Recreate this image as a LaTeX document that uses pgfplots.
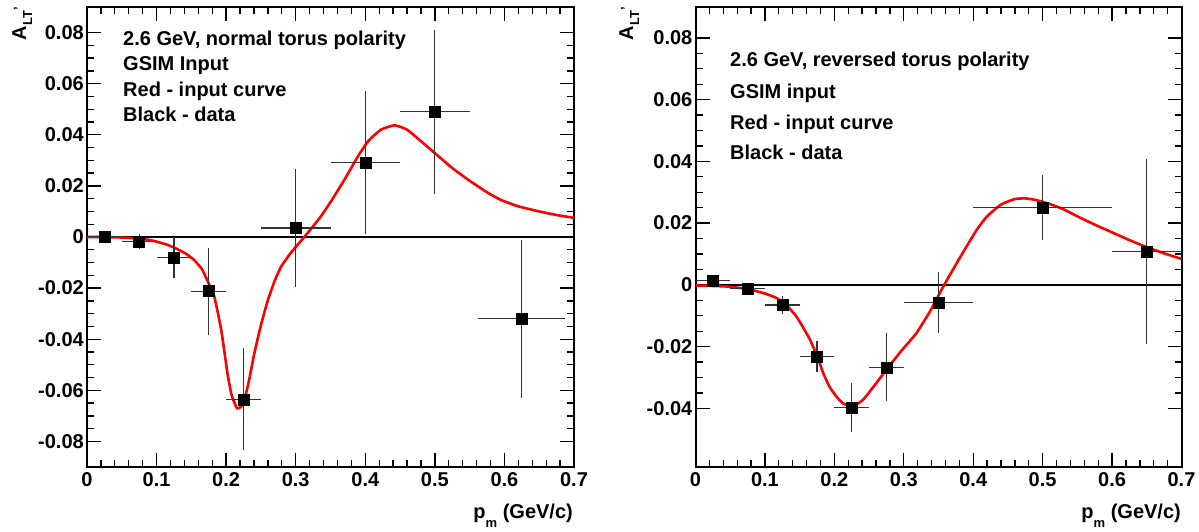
\documentclass[border=0pt]{standalone}
\usepackage{fontspec}
\setmainfont{Liberation Sans}
\usepackage{pgfplots}
\pgfplotsset{compat=1.18}

\pgfplotstableread{
x y ex ey
0.025 0.0003 0.025 0.0008
0.075 -0.0018 0.025 0.003
0.125 -0.0080 0.025 0.008
0.175 -0.0212 0.025 0.017
0.225 -0.0635 0.025 0.020
0.300 0.0035 0.050 0.023
0.400 0.0290 0.050 0.028
0.500 0.0490 0.050 0.032
0.625 -0.0320 0.0625 0.031
}\dataL

\pgfplotstableread{
x y ex ey
0.025 0.0013 0.025 0.001
0.075 -0.0011 0.025 0.001
0.125 -0.0065 0.025 0.003
0.175 -0.0232 0.025 0.005
0.225 -0.0397 0.025 0.008
0.275 -0.0267 0.025 0.011
0.350 -0.0057 0.050 0.010
0.500 0.0250 0.100 0.0105
0.650 0.0107 0.050 0.030
}\dataR

\pgfplotstableread{
x y
0.000 0.0000
0.020 0.0000
0.050 -0.0002
0.070 -0.0005
0.087 -0.0010
0.100 -0.0018
0.115 -0.0030
0.128 -0.0045
0.142 -0.0065
0.154 -0.0090
0.165 -0.0125
0.173 -0.0170
0.183 -0.0234
0.193 -0.0365
0.202 -0.0535
0.208 -0.0620
0.2156 -0.0670
0.221 -0.0665
0.226 -0.0640
0.233 -0.0560
0.2405 -0.0456
0.250 -0.0345
0.260 -0.0247
0.270 -0.0170
0.279 -0.0116
0.293 -0.0062
0.3076 -0.0015
0.320 0.0025
0.336 0.0080
0.352 0.0145
0.370 0.0224
0.390 0.0318
0.405 0.0378
0.4226 0.0420
0.442 0.0437
0.460 0.0420
0.480 0.0375
0.5027 0.0322
0.525 0.0270
0.550 0.0220
0.575 0.0175
0.595 0.0145
0.620 0.0120
0.650 0.0100
0.675 0.0086
0.700 0.0075
}\curveL

\pgfplotstableread{
x y
0.000 -0.0002
0.030 -0.0004
0.050 -0.0006
0.076 -0.0014
0.100 -0.0028
0.117 -0.0043
0.132 -0.0068
0.1455 -0.0103
0.155 -0.0138
0.165 -0.0178
0.175 -0.0230
0.184 -0.0286
0.193 -0.0330
0.203 -0.0362
0.212 -0.0383
0.2213 -0.0392
0.231 -0.0388
0.2415 -0.0372
0.258 -0.0325
0.275 -0.0275
0.296 -0.0215
0.318 -0.0157
0.338 -0.0085
0.357 -0.0005
0.380 0.0085
0.405 0.0178
0.420 0.0222
0.440 0.0260
0.460 0.0278
0.475 0.0280
0.490 0.0275
0.510 0.0262
0.530 0.0245
0.550 0.0222
0.575 0.0195
0.600 0.0170
0.625 0.0145
0.650 0.0122
0.675 0.0102
0.700 0.0084
}\curveR

\pgfplotsset{rootstyle/.style={
  scale only axis, width=487pt, height=460pt,
  xmin=0, xmax=0.7,
  xtick={0,0.1,0.2,0.3,0.4,0.5,0.6,0.7},
  xticklabels={0,0.1,0.2,0.3,0.4,0.5,0.6,0.7},
  minor x tick num=4, minor y tick num=3,
  major tick length=14pt, minor tick length=7pt,
  tick style={line width=1.3pt, black},
  axis line style={line width=2pt},
  ticklabel style={font=\fontsize{20}{24}\selectfont\bfseries},
  yticklabel style={inner sep=1pt, xshift=-2pt},
  xticklabel style={inner sep=1pt, yshift=-4pt},
}}

\begin{document}
\begin{tikzpicture}
\useasboundingbox (0,0) rectangle (1199pt,531pt);
\begin{axis}[rootstyle, at={(87pt,64pt)}, anchor=south west,
  ymin=-0.09, ymax=0.09,
  ytick={-0.08,-0.06,-0.04,-0.02,0,0.02,0.04,0.06,0.08},
  yticklabels={-0.08,-0.06,-0.04,-0.02,0,0.02,0.04,0.06,0.08}]
\addplot[black, line width=1.3pt] coordinates {(0,0) (0.7,0)};
\addplot[red, line width=2.6pt, smooth, tension=0.3] table[x=x,y=y] {\curveL};
\addplot[only marks, mark=square*, mark size=5.5pt, black,
  error bars/.cd, x dir=both, x explicit, y dir=both, y explicit,
  error mark=none, error bar style={line width=1.2pt, black!80}]
  table[x=x, y=y, x error=ex, y error=ey] {\dataL};
\end{axis}
\begin{axis}[rootstyle, at={(695.5pt,64pt)}, anchor=south west,
  width=486pt,
  ymin=-0.059, ymax=0.09,
  ytick={-0.04,-0.02,0,0.02,0.04,0.06,0.08},
  yticklabels={-0.04,-0.02,0,0.02,0.04,0.06,0.08}]
\addplot[black, line width=1.3pt] coordinates {(0,0) (0.7,0)};
\addplot[red, line width=2.6pt, smooth, tension=0.3] table[x=x,y=y] {\curveR};
\addplot[only marks, mark=square*, mark size=5.5pt, black,
  error bars/.cd, x dir=both, x explicit, y dir=both, y explicit,
  error mark=none, error bar style={line width=1.2pt, black!80}]
  table[x=x, y=y, x error=ex, y error=ey] {\dataR};
\end{axis}
% annotations
\begin{scope}[every node/.style={anchor=base west, inner sep=0pt, font=\fontsize{20}{24}\selectfont\bfseries}]
\node at (123pt,485.5pt) {2.6 GeV, normal torus polarity};
\node at (123pt,460pt) {GSIM Input};
\node at (123pt,434pt) {Red - input curve};
\node at (123pt,409.5pt) {Black - data};
\node at (730pt,464pt) {2.6 GeV, reversed torus polarity};
\node at (730pt,432pt) {GSIM input};
\node at (730pt,401.5pt) {Red - input curve};
\node at (730pt,371pt) {Black - data};
\end{scope}
% axis titles
\begin{scope}[every node/.style={inner sep=0pt, font=\fontsize{20}{24}\selectfont\bfseries}]
\node[rotate=90, anchor=base east] at (26pt,524pt) {A\raisebox{-6pt}{\fontsize{13}{15}\selectfont LT}\raisebox{3pt}{\fontsize{13}{15}\selectfont '}};
\node[rotate=90, anchor=base east] at (633pt,524pt) {A\raisebox{-6pt}{\fontsize{13}{15}\selectfont LT}\raisebox{3pt}{\fontsize{13}{15}\selectfont '}};
\node[anchor=base east] at (573pt,13pt) {p\raisebox{-9pt}{\fontsize{13}{15}\selectfont m} (GeV/c)};
\node[anchor=base east] at (1181pt,13pt) {p\raisebox{-9pt}{\fontsize{13}{15}\selectfont m} (GeV/c)};
\end{scope}
\end{tikzpicture}
\end{document}
